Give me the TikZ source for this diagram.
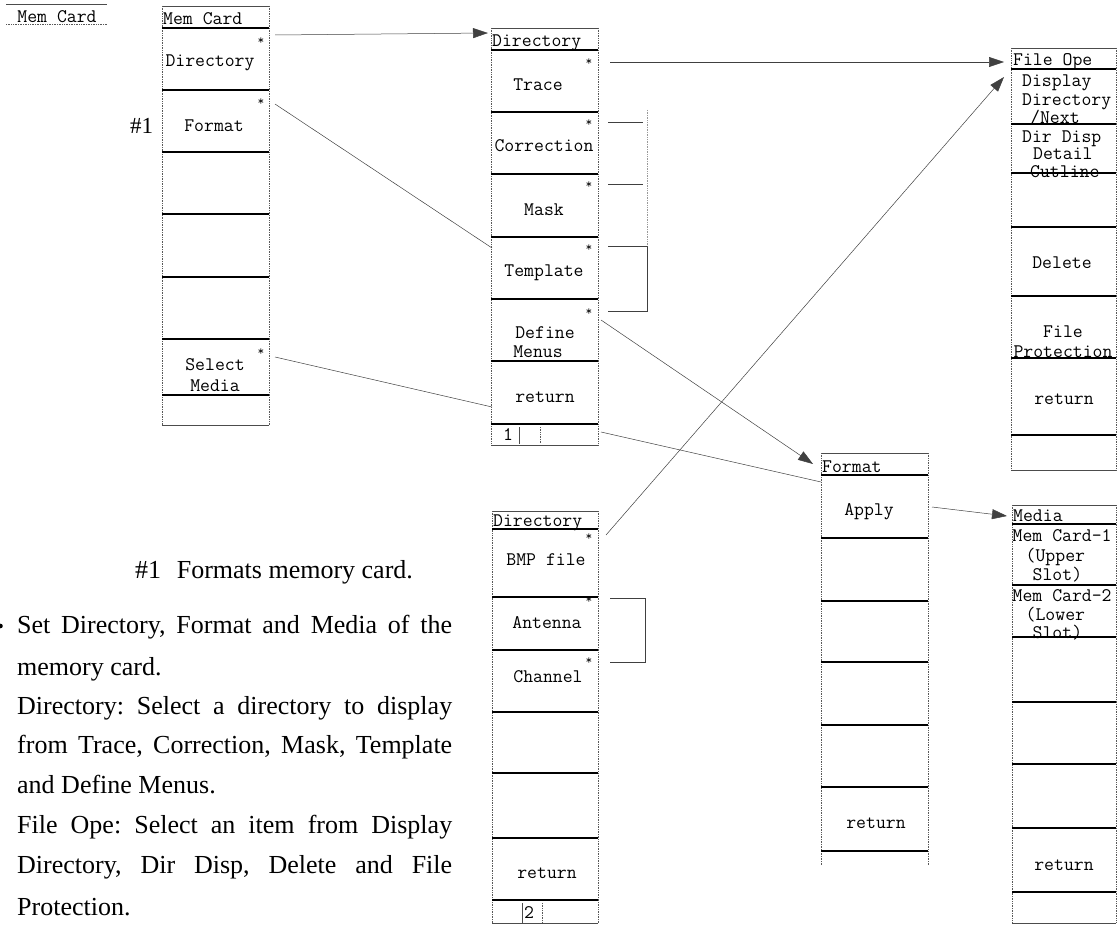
\documentclass[tikz,border=0pt]{standalone}
\usepackage{fontspec}
\setmainfont{Liberation Serif}
\usetikzlibrary{arrows.meta}
\frenchspacing
\begin{document}
\begin{tikzpicture}[x=1pt,y=-1pt,
  sep/.style={line width=1.3pt},
  side/.style={densely dotted, line width=0.7pt, black!65},
  thinl/.style={line width=0.5pt, black!70},
  conn/.style={line width=0.5pt, black!75},
  arr/.style={conn, -{Triangle[length=15pt,width=10pt]}},
  lbl/.style={font=\fontsize{19.2}{22}\ttfamily, inner sep=0pt},
  ttl/.style={lbl, anchor=base west},
  stack/.style={inner sep=0pt, anchor=west, align=left},
  star/.style={font=\fontsize{13}{13}\ttfamily, inner sep=0pt},
  txt/.style={font=\fontsize{26}{40}\selectfont, inner sep=0pt, anchor=base west}]
\useasboundingbox (0,0) rectangle (1118,933);

% ---------- standalone title ----------
\draw[thinl] (6,4) -- (107,4);
\node[lbl] (mctop) at (57,17) {Mem Card};
\draw[side] (6,24) -- (107,24);

% ---------- column 1 : Mem Card ----------
\draw[thinl] (162,6) -- (269,6);
\draw[side] (162,6) -- (162,425);
\draw[side] (269,6) -- (269,425);
\foreach \y in {28,90,152,214,277,339,395} \draw[sep] (162,\y) -- (269,\y);
\draw[thinl] (162,425) -- (269,425);
\node[ttl] (mct) at (163,25) {Mem Card};
\node[lbl] (mcdir) at (210,63) {Directory};
\node[lbl] (mcfmt) at (214,126) {Format};
\node[lbl] (mcsel) at (215,365) {Select};
\node[lbl] (mcmed) at (215,386) {Media};
\node[star] (s1) at (261,41) {*};
\node[star] (s2) at (261,102) {*};
\node[star] (s3) at (261,352) {*};
\node[txt,font=\fontsize{23}{26}\selectfont] (h1) at (130,134) {\#1};
\coordinate (s1o) at (275,35);
\coordinate (s2o) at (275,104);
\coordinate (s3o) at (275,357);

% ---------- column 2 : Directory (1) ----------
\draw[thinl] (491,28) -- (598,28);
\draw[side] (491,28) -- (491,445);
\draw[side] (598,28) -- (598,445);
\foreach \y in {50,112,174,237,299,361,424} \draw[sep] (491,\y) -- (598,\y);
\draw[thinl] (491,445) -- (598,445);
\node[ttl] (d1t) at (492,47) {Directory};
\node[lbl] (d1a) at (538,85) {Trace};
\node[lbl] (d1b) at (544,146) {Correction};
\node[lbl] (d1c) at (544,210) {Mask};
\node[lbl] (d1d) at (544,273) {Template};
\node[lbl] (d1e) at (545,333) {Define};
\node[lbl] (d1f) at (538,352) {Menus};
\node[lbl] (d1g) at (545,397) {return};
\node[lbl] (pg1) at (508,435) {1};
\draw[thinl] (519,427) -- (519,444);
\draw[side] (540,427) -- (540,444);
\foreach \y/\n in {62/a,123/b,185/c,248/d,312/e} \node[star] (t\n) at (589,\y) {*};
\coordinate (d1in) at (488,33);
\coordinate (d1fin) at (492,248);
\coordinate (d1rin) at (492,407);
\coordinate (tao) at (610,62);
\coordinate (teo) at (601,320);
\coordinate (pgo) at (601,432);
% dotted brackets
\draw[conn] (608,122) -- (643,122);
\draw[conn] (608,184) -- (643,184);
\draw[conn] (608,246) -- (647,246) -- (647,311) -- (608,311);
\draw[side, black!40] (647,110) -- (647,246);

% ---------- column 2b : Directory (2) ----------
\draw[thinl] (492,511) -- (598,511);
\draw[side] (492,511) -- (492,923);
\draw[side] (598,511) -- (598,923);
\foreach \y in {529,597,650,712,773,838,900} \draw[sep] (492,\y) -- (598,\y);
\draw[thinl] (492,923) -- (598,923);
\node[ttl] (d2t) at (493,526) {Directory};
\node[lbl] (d2a) at (546,560) {BMP file};
\node[lbl] (d2b) at (547,623) {Antenna};
\node[lbl] (d2c) at (548,677) {Channel};
\node[lbl] (d2d) at (547,873) {return};
\node[lbl] (pg2) at (529,913) {2};
\draw[thinl] (522,903) -- (522,923);
\draw[side] (542,903) -- (542,923);
\foreach \y/\n in {537/a,600/b,661/c} \node[star] (u\n) at (589,\y) {*};
\coordinate (uao) at (606,535);
\draw[conn] (610,598) -- (645,598) -- (645,662) -- (610,662);

% ---------- column 3 : Format ----------
\draw[thinl] (821,453) -- (928,453);
\draw[side] (821,453) -- (821,865);
\draw[side] (928,453) -- (928,865);
\foreach \y in {475,538,601,662,725,787,851} \draw[sep] (821,\y) -- (928,\y);
\node[ttl] (ft) at (822,472) {Format};
\node[lbl] (fa) at (869,512) {Apply};
\node[lbl] (fr) at (876,823) {return};
\coordinate (fin) at (813,464);
\coordinate (fin2) at (821,482);
\coordinate (fao) at (932,507);

% ---------- column 4 : File Ope ----------
\draw[thinl] (1011,48) -- (1116,48);
\draw[side] (1011,48) -- (1011,470);
\draw[side] (1116,48) -- (1116,470);
\foreach \y in {69,124,173,227,296,358,435} \draw[sep] (1011,\y) -- (1116,\y);
\draw[thinl] (1011,470) -- (1116,470);
\node[ttl] (fot) at (1013,66) {File Ope};
\node[stack, font=\fontsize{19.2}{18.5}\ttfamily] (fo1) at (1022,100)
  {Display\\Directory\\\hspace*{8pt}/Next};
\node[stack, font=\fontsize{19.2}{17.5}\ttfamily] (fo4) at (1022,154)
  {Dir Disp\\\hspace*{11pt}Detail\\\hspace*{8pt}Cutline};
\node[lbl] (fo7) at (1062,263) {Delete};
\node[lbl] (fo8) at (1063,332) {File};
\node[lbl] (fo9) at (1063,352) {Protection};
\node[lbl] (fo10) at (1064,399) {return};
\coordinate (foin) at (1004,62);
\coordinate (foin2) at (1004,77);

% ---------- column 5 : Media ----------
\draw[thinl] (1012,505) -- (1116,505);
\draw[side] (1012,505) -- (1012,923);
\draw[side] (1116,505) -- (1116,923);
\foreach \y in {524,585,637,702,764,828,892} \draw[sep] (1012,\y) -- (1116,\y);
\draw[thinl] (1012,923) -- (1116,923);
\node[ttl] (mdt) at (1013,521) {Media};
\node[stack, font=\fontsize{19.2}{19.5}\ttfamily] (md1) at (1012.5,585)
  {Mem Card-1\\[0.5pt]\hspace*{13pt}(Upper\\[-0.5pt]\hspace*{20pt}Slot)\\[1.5pt]%
   Mem Card-2\\[-1pt]\hspace*{13pt}(Lower\\[-1.5pt]\hspace*{20pt}Slot)};
\node[lbl] (md7) at (1064,865) {return};
\coordinate (mdin) at (1007,516);

% ---------- connectors ----------
\draw[arr] (s1o) -- (d1in);
\draw[conn] (s2o) -- (d1fin);
\draw[conn] (s3o) -- (d1rin);
\draw[arr] (tao) -- (foin);
\draw[arr] (teo) -- (fin);
\draw[conn] (pgo) -- (fin2);
\draw[arr] (uao) -- (foin2);
\draw[arr] (fao) -- (mdin);

% ---------- notes ----------
\node[txt] (n0) at (135,578) {\#1\hspace{0.6em}Formats memory card.};
\fill (0.5,626) circle (2.3);
\node[txt] (n1) at (17,633) {\makebox[435pt][s]{Set Directory, Format and Media of the}};
\node[txt] (n2) at (17,675) {memory card.};
\node[txt] (n3) at (17,714) {\makebox[435pt][s]{Directory: Select a directory to display}};
\node[txt] (n4) at (17,753) {\makebox[435pt][s]{from Trace, Correction, Mask, Template}};
\node[txt] (n5) at (17,793) {and Define Menus.};
\node[txt] (n6) at (17,833) {\makebox[435pt][s]{File Ope: Select an item from Display}};
\node[txt] (n7) at (17,873) {\makebox[435pt][s]{Directory, Dir Disp, Delete and File}};
\node[txt] (n8) at (17,915) {Protection.};
\end{tikzpicture}
\end{document}
